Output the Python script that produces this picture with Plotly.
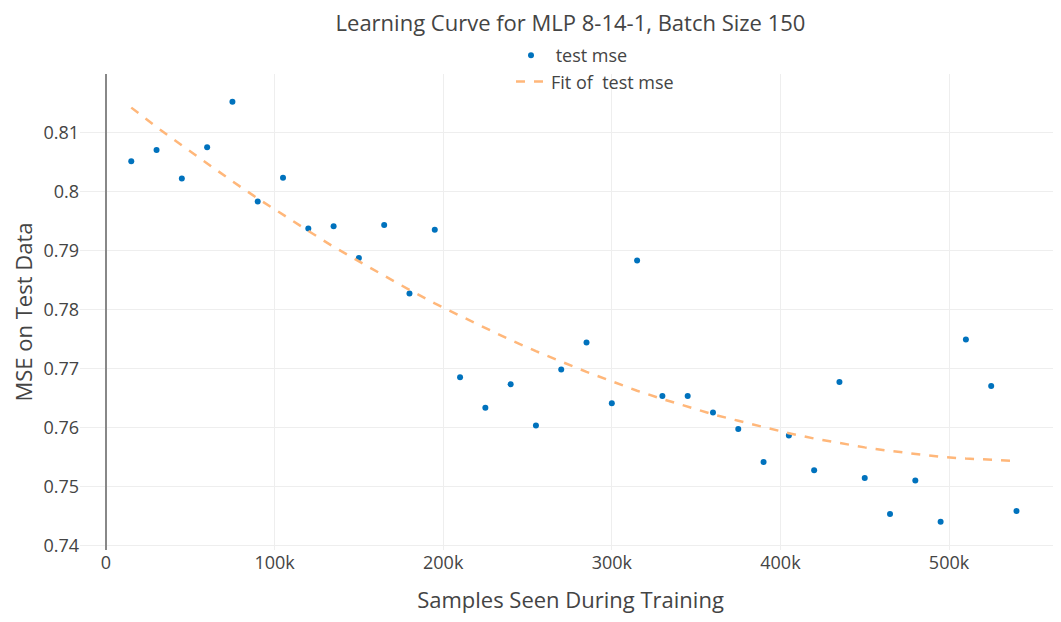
import plotly.graph_objects as go

samples = [15000, 30000, 45000, 60000, 75000, 90000, 105000, 120000, 135000, 150000,
           165000, 180000, 195000, 210000, 225000, 240000, 255000, 270000, 285000, 300000,
           315000, 330000, 345000, 360000, 375000, 390000, 405000, 420000, 435000, 450000,
           465000, 480000, 495000, 510000, 525000, 540000]

test_mse = [0.8051, 0.8070, 0.8022, 0.8075, 0.8152, 0.7983, 0.8023, 0.7937, 0.7941, 0.7887,
            0.7943, 0.7827, 0.7935, 0.7685, 0.7633, 0.7673, 0.7603, 0.7698, 0.7744, 0.7641,
            0.7883, 0.7653, 0.7653, 0.7625, 0.7597, 0.7541, 0.7586, 0.7527, 0.7677, 0.7514,
            0.7453, 0.7510, 0.7440, 0.7749, 0.7670, 0.7458]

fit_mse = [0.8142, 0.8109, 0.8078, 0.8047, 0.8017, 0.7988, 0.7960, 0.7933, 0.7906, 0.7881,
           0.7857, 0.7833, 0.7810, 0.7789, 0.7768, 0.7748, 0.7729, 0.7711, 0.7694, 0.7678,
           0.7662, 0.7648, 0.7635, 0.7622, 0.7611, 0.7600, 0.7590, 0.7581, 0.7573, 0.7566,
           0.7560, 0.7555, 0.7550, 0.7547, 0.7545, 0.7543]

x_ticks = [0, 100000, 200000, 300000, 400000, 500000]
x_tick_labels = ["0", "100k", "200k", "300k", "400k", "500k"]
y_ticks = [0.74, 0.75, 0.76, 0.77, 0.78, 0.79, 0.8, 0.81]
y_tick_labels = ["0.74", "0.75", "0.76", "0.77", "0.78", "0.79", "0.8", "0.81"]

FONT = "Open Sans, verdana, arial, sans-serif"

# page body margin offsets the figure by 8px
W, H = 1053, 614
PLOT_LEFT, PLOT_TOP, PLOT_BOTTOM = 72, 66, 542
plot_w = W - PLOT_LEFT
plot_h = PLOT_BOTTOM - PLOT_TOP

fig = go.Figure()
fig.add_trace(go.Scatter(
    x=samples, y=test_mse, mode="markers", name="\u00a0test mse",
    marker=dict(color="#0072bd", size=6),
))
fig.add_trace(go.Scatter(
    x=samples, y=fit_mse, mode="lines", name="Fit of \u00a0test mse",
    line=dict(color="#ffb77a", width=2.5, dash="dash"),
))

fig.update_layout(
    width=W, height=H,
    margin=dict(l=PLOT_LEFT, r=0, t=PLOT_TOP, b=H - PLOT_BOTTOM, autoexpand=False),
    paper_bgcolor="white", plot_bgcolor="white",
    font=dict(family=FONT, color="#444", size=18),
    title=dict(text="Learning Curve for MLP 8-14-1, Batch Size 150",
               x=0.5, xref="paper", xanchor="center",
               y=1 - 15.5 / H, yanchor="middle",
               font=dict(size=22, family=FONT, color="#444")),
    legend=dict(x=(503 - PLOT_LEFT) / plot_w, xanchor="left",
                y=1 + (PLOT_TOP - 60.5) / plot_h, yanchor="middle",
                orientation="v", bgcolor="rgba(0,0,0,0)",
                font=dict(size=18, family=FONT, color="#444")),
    showlegend=True,
)
fig.update_xaxes(
    range=[-15400, 566400],
    tickvals=x_ticks, ticktext=x_tick_labels,
    showgrid=True, gridcolor="#eeeeee", gridwidth=1,
    zeroline=True, zerolinecolor="#888888", zerolinewidth=1.5,
    showline=False, ticks="", automargin=False,
    tickfont=dict(size=18),
    title=dict(text="Samples Seen During Training", font=dict(size=22), standoff=19),
)
fig.update_yaxes(
    range=[0.7392, 0.8199],
    tickvals=y_ticks, ticktext=y_tick_labels,
    showgrid=True, gridcolor="#eeeeee", gridwidth=1,
    zeroline=False, showline=False, ticks="", automargin=False,
    tickfont=dict(size=18),
    title=dict(text="MSE on Test Data", font=dict(size=22), standoff=14),
)

fig.write_html("out.html")
